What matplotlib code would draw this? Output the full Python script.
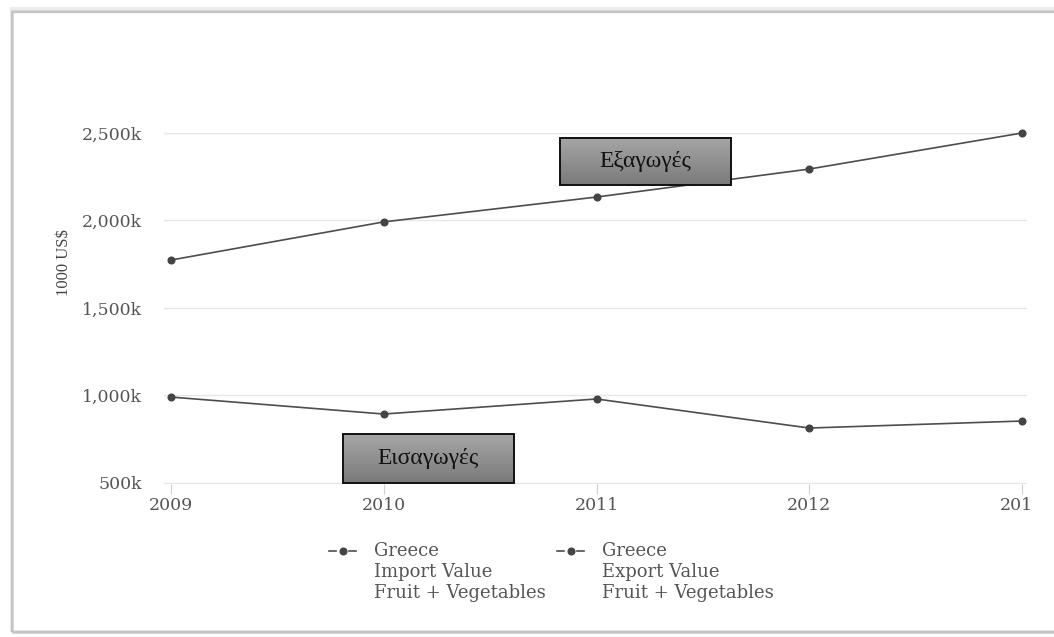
"""
Greece fruit + vegetables trade (import / export value), 2009-2013.
"""
import numpy as np
import matplotlib
matplotlib.use('Agg')
import matplotlib.pyplot as plt
from matplotlib.lines import Line2D
from matplotlib.patches import Rectangle
from matplotlib.transforms import Bbox, TransformedBbox

# --- data (1000 US$) ---
years = [2009, 2010, 2011, 2012, 2013]
export_value = [1774, 1992, 2134, 2294, 2500]
import_value = [991, 894, 980, 814, 854]
y_ticks = [500, 1000, 1500, 2000, 2500]
y_tick_labels = ['500k', '1,000k', '1,500k', '2,000k', '2,500k']
legend_labels = ['Greece\nImport Value\nFruit + Vegetables',
                 'Greece\nExport Value\nFruit + Vegetables']
# annotation boxes: text, center (year, value), size (years, value)
notes = [('Εξαγωγές', (2011.23, 2337), (0.80, 269)),
         ('Εισαγωγές', (2010.21, 640), (0.80, 280))]

W, H = 1054, 637
LINE_C = '#4d4d4d'
MARK_C = '#444444'
TXT_C = '#555555'
SERIF = 'DejaVu Serif'
XLIM = (2009 - 7 / 212.75, 2013 + 5 / 212.75)
YLIM = (497, 500 + 383 / 87.5 * 500)

fig = plt.figure(figsize=(W / 100, H / 100), dpi=100)
fig.patch.set_facecolor('white')

# outer frame with soft shadow
for off, c, lw in [(3, '#ececec', 3), (1.5, '#d8d8d8', 2), (0, '#c4c4c4', 1.6)]:
    fig.add_artist(Rectangle((12 / W, 5 / H), 1.2, (620 + off) / H,
                             transform=fig.transFigure, fill=False,
                             edgecolor=c, linewidth=lw))

ax = fig.add_axes([164 / W, 1 - 483.5 / H, (1027 - 164) / W, (483.5 - 100) / H])

for s in ax.spines.values():
    s.set_visible(False)
ax.set_yticks(y_ticks)
ax.set_yticklabels(y_tick_labels)
ax.set_xticks(years)
ax.set_xticklabels([str(y) for y in years])
ax.grid(axis='y', color='#e6e6e6', linewidth=1)
ax.set_axisbelow(True)
ax.tick_params(axis='y', length=0, pad=16, labelsize=12.5, labelcolor=TXT_C)
ax.tick_params(axis='x', length=7, color='#d0d0d0', pad=3, labelsize=12.5,
               labelcolor=TXT_C)
for lab in ax.get_xticklabels() + ax.get_yticklabels():
    lab.set_fontfamily(SERIF)

# clip the last year label like the original
clip = TransformedBbox(Bbox([[0, 0], [1033 / W, 1]]), fig.transFigure)
for lab in ax.get_xticklabels():
    lab.set_clip_box(clip)
    lab.set_clip_on(True)

fig.text(72 / W, 1 - 263 / H, '1000 US$', rotation=90, ha='right', va='center',
         family='Liberation Serif', fontsize=12, color='#444444')

ax.plot(years, export_value, color=LINE_C, lw=1.2, marker='o', ms=4.8,
        mfc=MARK_C, mec=MARK_C, clip_on=False, zorder=3)
ax.plot(years, import_value, color=LINE_C, lw=1.2, marker='o', ms=4.8,
        mfc=MARK_C, mec=MARK_C, clip_on=False, zorder=3)

# gray gradient annotation boxes
grad = np.linspace(0, 1, 64).reshape(-1, 1)
gray_cmap = matplotlib.colors.LinearSegmentedColormap.from_list(
    'g', ['#a6a6a6', '#7a7a7a'])
for text, (cx, cy), (bw, bh) in notes:
    x0, x1 = cx - bw / 2, cx + bw / 2
    y0, y1 = cy - bh / 2, cy + bh / 2
    ax.imshow(grad, cmap=gray_cmap, extent=[x0, x1, y0, y1],
              aspect='auto', origin='upper', zorder=4, interpolation='bilinear')
    ax.add_patch(Rectangle((x0, y0), bw, bh, fill=False, edgecolor='#111111',
                           linewidth=1.4, zorder=5))
    ax.text(cx, cy, text, ha='center', va='center', fontsize=17,
            family='Liberation Serif', color='#111111', zorder=6)
ax.set_xlim(*XLIM)
ax.set_ylim(*YLIM)

# legend drawn by hand: handle sits on the first text line
def legend_entry(x_px, label):
    yl = 1 - 551 / H
    for a, b in [(0, 7), (20, 27)]:
        fig.add_artist(Line2D([(x_px + a) / W, (x_px + b) / W], [yl, yl],
                              transform=fig.transFigure, color=LINE_C, lw=1.2))
    fig.add_artist(Line2D([(x_px + 13.5) / W], [yl], transform=fig.transFigure,
                          marker='o', ms=4.8, color=MARK_C, lw=0))
    fig.text((x_px + 45) / W, 1 - 542 / H, label, ha='left', va='top',
             fontsize=13, family=SERIF, color=TXT_C, linespacing=1.2)

legend_entry(329, legend_labels[0])
legend_entry(557, legend_labels[1])

fig.savefig('out.png', dpi=100)
